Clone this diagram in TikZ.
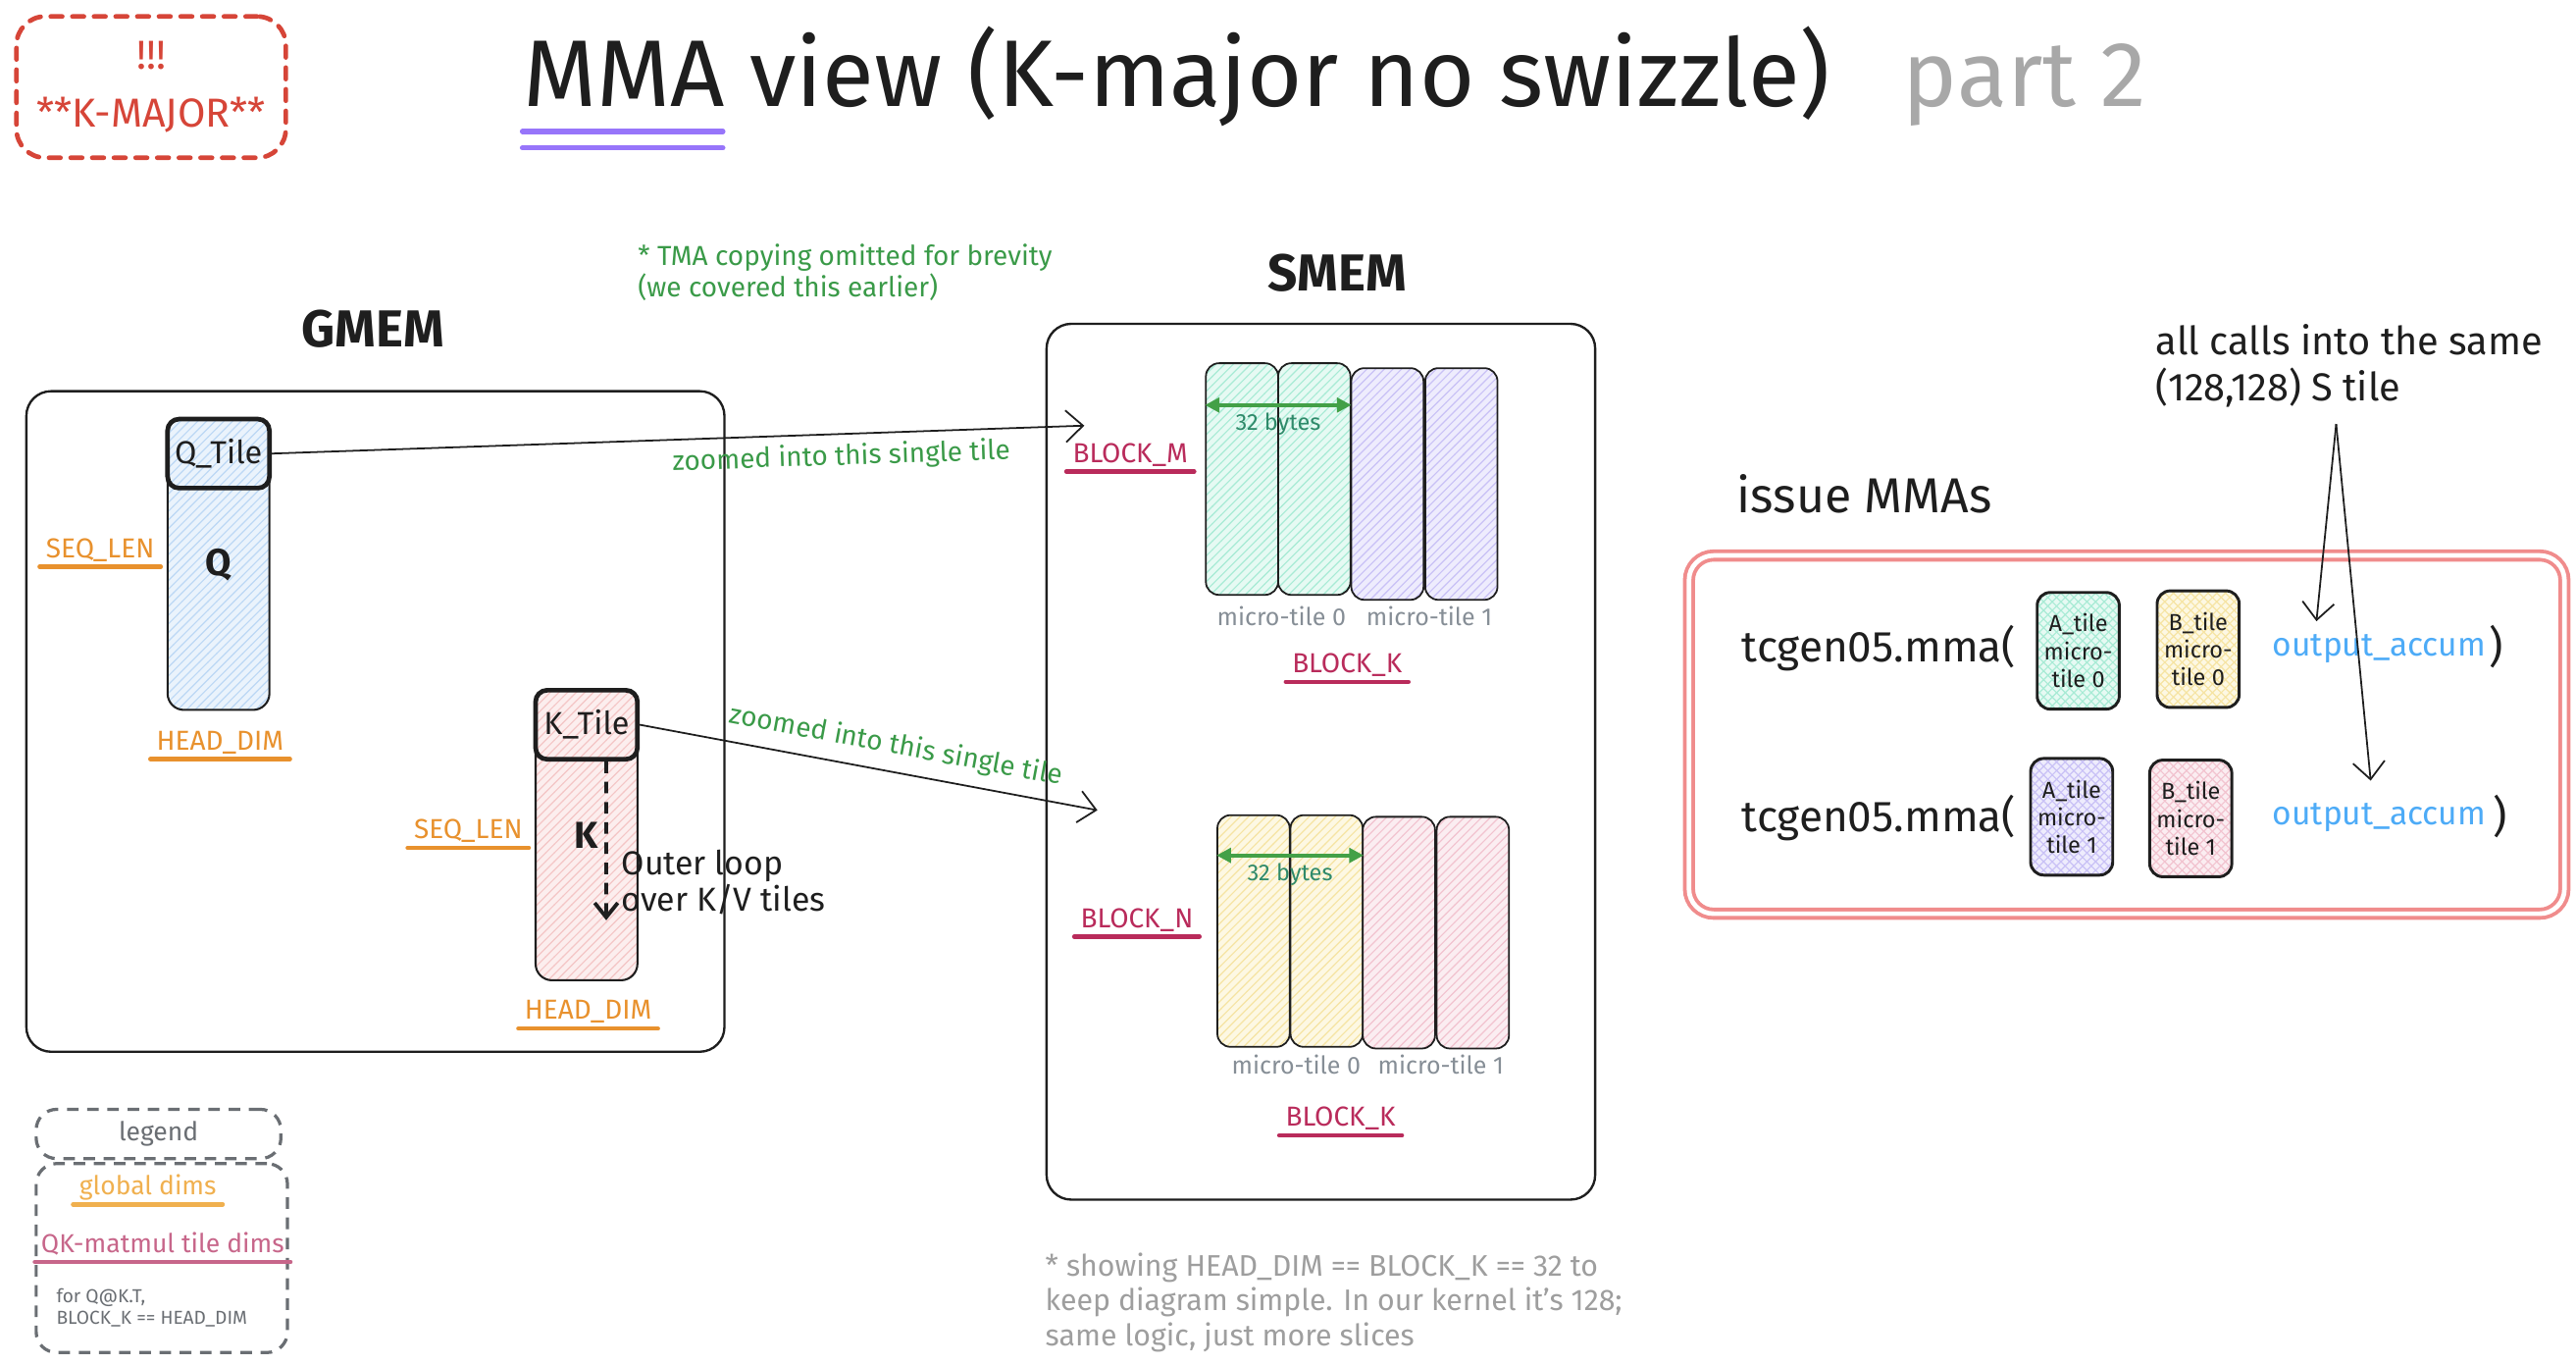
\documentclass[tikz,border=0pt]{standalone}
\usepackage{fontspec}
\setmainfont{Fira Sans}
\usetikzlibrary{arrows.meta,patterns}

\definecolor{ink}{HTML}{1E1E1E}
\definecolor{dimorange}{HTML}{E8912D}
\definecolor{dimred}{HTML}{B92B5B}
\definecolor{lgorange}{HTML}{F0B04F}
\definecolor{lgred}{HTML}{C7668A}
\definecolor{notegreen}{HTML}{3A9A48}
\definecolor{bytegreen}{HTML}{2F8A6A}
\definecolor{arrowgreen}{HTML}{43A047}
\definecolor{midgrey}{HTML}{868E96}
\definecolor{lightgrey}{HTML}{9E9E9E}
\definecolor{legendgrey}{HTML}{6A6E73}
\definecolor{accblue}{HTML}{4DABF7}
\definecolor{framered}{HTML}{F08C8C}
\definecolor{majorred}{HTML}{D64538}
\definecolor{titlepurple}{HTML}{9775FA}
\definecolor{partgrey}{HTML}{A8A8A8}
\definecolor{mint}{HTML}{E6FAF3}
\definecolor{mintl}{HTML}{A8EBD5}
\definecolor{lav}{HTML}{EEECFD}
\definecolor{lavl}{HTML}{C9C1F6}
\definecolor{sand}{HTML}{FDF8E3}
\definecolor{sandl}{HTML}{F6E4A3}
\definecolor{rose}{HTML}{FBEDF1}
\definecolor{rosel}{HTML}{F2C3CF}
\definecolor{sky}{HTML}{EAF3FC}
\definecolor{skyl}{HTML}{BCD8F5}
\definecolor{blush}{HTML}{FCEEEE}
\definecolor{blushl}{HTML}{F4C6C6}

\tikzstyle{panel} = [draw=ink, line width=0.8pt, rounded corners=0.3cm, inner sep=0pt]
\tikzstyle{major} = [draw=majorred, line width=1.6pt, line cap=round, dash pattern=on 4pt off 3.5pt, rounded corners=0.35cm, align=center, text=majorred, font=\fontsize{14}{20}\selectfont]
\tikzstyle{section} = [text=ink, font=\fontsize{18}{18}\selectfont\bfseries]
\tikzstyle{bigcol} = [draw=ink, line width=0.7pt, rounded corners=0.2cm, inner sep=0pt, minimum width=1.24cm, minimum height=3.54cm, text=ink, font=\fontsize{13}{13}\selectfont\bfseries]
\tikzstyle{tilehead} = [draw=ink, line width=1.6pt, rounded corners=0.14cm, inner sep=0pt, minimum width=1.24cm, minimum height=0.84cm, text=ink, font=\fontsize{11}{11}\selectfont]
\tikzstyle{slice} = [draw=ink, line width=0.6pt, rounded corners=0.16cm, inner sep=0pt, minimum width=0.88cm, minimum height=2.82cm]
\tikzstyle{mtile} = [draw=ink, line width=1pt, rounded corners=0.16cm, inner sep=0pt, minimum width=1cm, minimum height=1.42cm, align=center, text=ink, font=\fontsize{8}{9.6}\selectfont]
\tikzstyle{frame} = [draw=framered, line width=1.3pt, double=white, double distance=1.6pt, rounded corners=0.3cm, inner sep=0pt]
\tikzstyle{legendbox} = [draw=legendgrey, line width=1.1pt, dash pattern=on 4pt off 3pt, rounded corners=0.25cm, inner sep=0pt, text=legendgrey, font=\fontsize{9}{9}\selectfont]
\tikzstyle{dim} = [inner sep=2pt, text height=0.7em, text depth=0.1em, font=\fontsize{9.5}{9.5}\selectfont]
\tikzstyle{micro} = [text=midgrey, font=\fontsize{8.5}{8.5}\selectfont]
\tikzstyle{bytes} = [text=bytegreen, inner sep=1pt, font=\fontsize{8}{8}\selectfont]
\tikzstyle{zoomlabel} = [text=notegreen, inner sep=1pt, font=\fontsize{9.5}{9.5}\selectfont]
\tikzstyle{zoomarrow} = [draw=ink, line width=0.6pt, -{Straight Barb[length=6pt, width=11pt]}]
\tikzstyle{bytearrow} = [draw=arrowgreen, line width=1.4pt, {Triangle[length=5pt, width=5pt]}-{Triangle[length=5pt, width=5pt]}]
\tikzstyle{looparrow} = [draw=ink, line width=1.3pt, dash pattern=on 4pt off 3pt, -{Straight Barb[length=5pt, width=8pt]}]
\tikzstyle{call} = [anchor=base west, inner sep=0pt, text=ink, font=\fontsize{15}{15}\selectfont]
\tikzstyle{accum} = [anchor=base west, inner sep=0pt, text=accblue, font=\fontsize{11.4}{11.4}\selectfont]

\tikzstyle{skyfill} = [preaction={fill=sky}, pattern=north east lines, pattern color=skyl]
\tikzstyle{blushfill} = [preaction={fill=blush}, pattern=north east lines, pattern color=blushl]
\tikzstyle{mintfill} = [preaction={fill=mint}, pattern=north east lines, pattern color=mintl]
\tikzstyle{lavfill} = [preaction={fill=lav}, pattern=north east lines, pattern color=lavl]
\tikzstyle{sandfill} = [preaction={fill=sand}, pattern=north east lines, pattern color=sandl]
\tikzstyle{rosefill} = [preaction={fill=rose}, pattern=north east lines, pattern color=rosel]
\tikzstyle{mintcross} = [preaction={fill=mint}, preaction={pattern=north west lines, pattern color=mintl}, pattern=north east lines, pattern color=mintl]
\tikzstyle{sandcross} = [preaction={fill=sand}, preaction={pattern=north west lines, pattern color=sandl}, pattern=north east lines, pattern color=sandl]
\tikzstyle{lavcross} = [preaction={fill=lav}, preaction={pattern=north west lines, pattern color=lavl}, pattern=north east lines, pattern color=lavl]
\tikzstyle{rosecross} = [preaction={fill=rose}, preaction={pattern=north west lines, pattern color=rosel}, pattern=north east lines, pattern color=rosel]

\tikzset{uline/.style={dim, text=#1, append after command={(\tikzlastnode.south west) edge[draw=#1, line width=1.5pt, line cap=round] (\tikzlastnode.south east)}}}

\begin{document}
\begin{tikzpicture}[x=0.02cm, y=-0.02cm]

	\useasboundingbox (0,0) rectangle (1568,830);

	\node[major, minimum width=3.28cm, minimum height=1.72cm] (kmajor) at (92,53) {!!!\\**K-MAJOR**};

	\node[anchor=base west, inner sep=0pt, text=ink, font=\fontsize{32.8}{32.8}\selectfont] (title) at (318,65) {MMA view (K-major no swizzle)};
	\node[anchor=base west, inner sep=0pt, text=partgrey, font=\fontsize{32}{32}\selectfont] (part) at (1158,65) {part 2};
	\draw[titlepurple, line width=1.8pt, line cap=round] ([shift={(0,15)}]title.base west) -- ++(122,0);
	\draw[titlepurple, line width=1.8pt, line cap=round] ([shift={(0,25)}]title.base west) -- ++(122,0);

	\node[section] (gmemlbl) at (227,200) {GMEM};
	\node[section] (smemlbl) at (814,166) {SMEM};
	\node[anchor=north west, align=left, inner sep=0pt, text=notegreen, font=\fontsize{9.5}{10.8}\selectfont] (tma) at (388,148) {* TMA copying omitted for brevity\\(we covered this earlier)};

	\node[panel, minimum width=8.5cm, minimum height=8.04cm] (gmem) at (228.5,439) {};
	\node[bigcol, skyfill] (qmat) at (133,343.5) {Q};
	\node[tilehead, skyfill] (qtile) at (133,276) {Q\_Tile};
	\node[uline=dimorange] (qseq) at (61,334) {SEQ\_LEN};
	\node[uline=dimorange] (qhead) at (134,451) {HEAD\_DIM};

	\node[bigcol, blushfill] (kmat) at (357,508) {K};
	\node[tilehead, blushfill] (ktile) at (357,441) {K\_Tile};
	\node[uline=dimorange] (kseq) at (285,505) {SEQ\_LEN};
	\node[uline=dimorange] (khead) at (358,615) {HEAD\_DIM};
	\coordinate (kloop) at (369,560);
	\draw[looparrow] ([xshift=0.24cm]ktile.south) -- (kloop);
	\node[anchor=north west, align=left, inner sep=0pt, text=ink, font=\fontsize{11.5}{12.5}\selectfont] (outer) at (378,517) {Outer loop\\over K/V tiles};

	\node[panel, minimum width=6.68cm, minimum height=10.66cm] (smem) at (804,463.5) {};
	\node[slice, mintfill] (qm0a) at (756,291.5) {};
	\node[slice, mintfill] (qm0b) at (800,291.5) {};
	\node[slice, lavfill] (qm1a) at (844.5,294.5) {};
	\node[slice, lavfill] (qm1b) at (889.5,294.5) {};
	\draw[bytearrow] ([yshift=-0.52cm]qm0a.north west) -- ([yshift=-0.52cm]qm0b.north east) node[midway, below=1pt, bytes] (qbytes) {32 bytes};
	\node[micro] (qmt0) at (780,375) {micro-tile 0};
	\node[micro] (qmt1) at (870,375) {micro-tile 1};
	\node[uline=dimred] (blockm) at (688,276) {BLOCK\_M};
	\node[uline=dimred] (qblockk) at (820,404) {BLOCK\_K};

	\node[slice, sandfill] (kn0a) at (763,566.5) {};
	\node[slice, sandfill] (kn0b) at (807.5,566.5) {};
	\node[slice, rosefill] (kn1a) at (851.5,567.5) {};
	\node[slice, rosefill] (kn1b) at (896.5,567.5) {};
	\draw[bytearrow] ([yshift=-0.5cm]kn0a.north west) -- ([yshift=-0.5cm]kn0b.north east) node[midway, below=1pt, bytes] (kbytes) {32 bytes};
	\node[micro] (kmt0) at (789,648) {micro-tile 0};
	\node[micro] (kmt1) at (877,648) {micro-tile 1};
	\node[uline=dimred] (blockn) at (692,559) {BLOCK\_N};
	\node[uline=dimred] (kblockk) at (816,680) {BLOCK\_K};

	\coordinate (qzoom) at (660,259);
	\coordinate (kzoom) at (668,493);
	\draw[zoomarrow] (qtile.east) -- (qzoom) node[pos=0.7, below=2pt, sloped, zoomlabel] (qzl) {zoomed into this single tile};
	\draw[zoomarrow] (ktile.east) -- (kzoom) node[pos=0.55, above=3pt, sloped, zoomlabel] (kzl) {zoomed into this single tile};

	\node[anchor=north west, align=left, inner sep=0pt, text=lightgrey, font=\fontsize{10.3}{12}\selectfont] (simple) at (636,762) {* showing HEAD\_DIM == BLOCK\_K == 32 to\\keep diagram simple. In our kernel it's 128;\\same logic, just more slices};

	\node[anchor=north west, align=left, inner sep=0pt, text=ink, font=\fontsize{13.5}{16}\selectfont] (scall) at (1312,197) {all calls into the same\\(128,128) S tile};
	\node[anchor=base west, inner sep=0pt, text=ink, font=\fontsize{17}{17}\selectfont] (issue) at (1057,312) {issue MMAs};
	\node[frame, minimum width=10.66cm, minimum height=4.36cm] (mmas) at (1294.5,447) {};

	\node[call] (call0) at (1060,403) {tcgen05.mma(};
	\node[mtile, mintcross] (a0) at (1265,396) {A\_tile\\micro-\\tile 0};
	\node[mtile, sandcross] (b0) at (1338,395) {B\_tile\\micro-\\tile 0};
	\node[accum] (acc0) at (1383,399) {output\_accum};
	\node[call] (close0) at (1515,403) {)};

	\node[call] (call1) at (1060,506) {tcgen05.mma(};
	\node[mtile, lavcross] (a1) at (1261,497) {A\_tile\\micro-\\tile 1};
	\node[mtile, rosecross] (b1) at (1333.5,498) {B\_tile\\micro-\\tile 1};
	\node[accum] (acc1) at (1383,502) {output\_accum};
	\node[call] (close1) at (1517,506) {)};

	\coordinate (sfrom) at (1422,258);
	\coordinate (sto0) at (1410,378);
	\coordinate (sto1) at (1443,475);
	\draw[zoomarrow] (sfrom) -- (sto0);
	\draw[zoomarrow] (sfrom) -- (sto1);

	\node[legendbox, minimum width=2.98cm, minimum height=0.6cm] (legend) at (96.5,690) {legend};
	\node[legendbox, minimum width=3.06cm, minimum height=2.3cm] (legendbody) at (98.5,765.5) {};
	\node[uline=lgorange, font=\fontsize{9}{9}\selectfont] (lglobal) at (90,722) {global dims};
	\node[uline=lgred, font=\fontsize{9}{9}\selectfont] (ltile) at (99,757) {QK-matmul tile dims};
	\node[anchor=north west, align=left, inner sep=0pt, text=legendgrey, font=\fontsize{6.5}{7.4}\selectfont] (lnote) at (34,784) {for Q@K.T,\\BLOCK\_K == HEAD\_DIM};

\end{tikzpicture}
\end{document}
